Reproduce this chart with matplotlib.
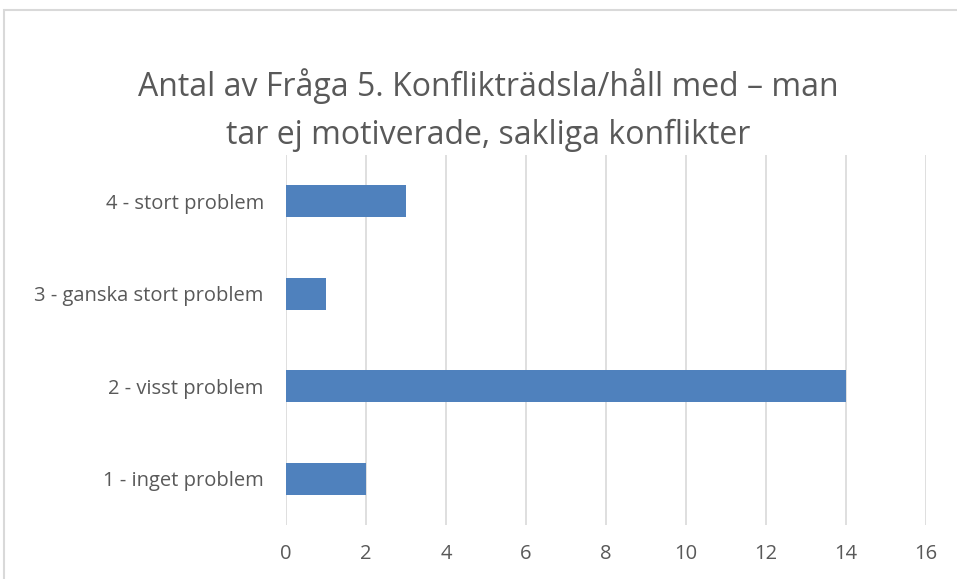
import matplotlib
matplotlib.use("Agg")
import matplotlib.pyplot as plt
from matplotlib.patches import Rectangle

# data
categories = ["1 - inget problem", "2 - visst problem", "3 - ganska stort problem", "4 - stort problem"]
counts = [2, 14, 1, 3]
xticks = [0, 2, 4, 6, 8, 10, 12, 14, 16]

plt.rcParams['font.family'] = ['Open Sans', 'DejaVu Sans']
text_color = '#595959'

fig = plt.figure(figsize=(9.57, 5.79), dpi=100)
W, H = 957, 579

# outer frame like the excel chart border
fig.patches.append(Rectangle((4 / W, -0.1), 1.2, (579 - 10) / H + 0.1,
                             transform=fig.transFigure, fill=False,
                             edgecolor='#D9D9D9', linewidth=1.5))

ax = fig.add_axes([286 / W, (579 - 525) / H, (926 - 286) / W, (525 - 155) / H])
ax.barh(range(len(categories)), counts, height=0.35, color='#4F81BD', zorder=3)

ax.set_xlim(0, 16)
ax.set_ylim(-0.5, len(categories) - 0.5)
ax.set_xticks(xticks)
ax.set_yticks(range(len(categories)))
ax.set_yticklabels(categories)
ax.grid(axis='x', color='#D9D9D9', linewidth=1.2, zorder=0)
for s in ax.spines.values():
    s.set_visible(False)
ax.tick_params(length=0, colors=text_color, labelsize=14.5)
ax.tick_params(axis='x', pad=14)
ax.tick_params(axis='y', pad=16)

fig.text(488 / W, 1 - 110 / H, "Antal av Fråga 5. Konflikträdsla/håll med – man\ntar ej motiverade, sakliga konflikter",
         ha='center', va='center', fontsize=23, color=text_color, linespacing=1.6)

fig.savefig("out.png", dpi=100)
